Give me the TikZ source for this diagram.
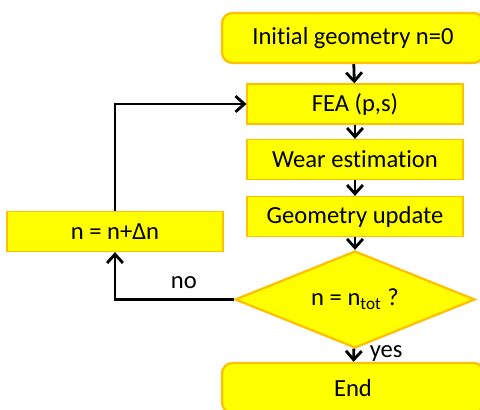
\documentclass[tikz,border=0pt]{standalone}
\usepackage{xcolor}
\usepackage{fontspec}
\setmainfont{Carlito}[Ligatures=NoCommon]
\usepackage{tikz}
\usetikzlibrary{shapes.geometric,arrows.meta}
\definecolor{WFYellow}{HTML}{FFFF00}
\definecolor{WFEdge}{HTML}{FFC000}
\begin{document}
\begin{tikzpicture}[x=1cm,y=1cm,
  every node/.style={font=\fontsize{14}{17}\selectfont},
  wfbox/.style={draw=WFEdge,line width=.7pt,fill=WFYellow,minimum width=4.32cm,minimum height=.8cm,inner sep=0pt},
  wfround/.style={wfbox,rounded corners=6pt,minimum width=5.24cm,minimum height=1cm,line width=1.3pt},
  wfcheck/.style={draw=WFEdge,line width=1.3pt,fill=WFYellow,diamond,aspect=2.5,minimum width=4.8cm,minimum height=1.94cm,inner sep=0pt},
  wfarrow/.style={-{Straight Barb[length=5pt,width=9pt,line width=1.6pt]},line width=1.6pt}]
\path[use as bounding box] (0,0) rectangle (9.60,8.20);
\node[wfround] (init) at (7.06,7.44) {Initial geometry n=0};
\node[wfbox] (fea) at (7.10,6.12) {FEA (p,s)};
\node[wfbox] (wear) at (7.10,5.01) {Wear estimation};
\node[wfbox] (geom) at (7.10,3.87) {Geometry update};
\node[wfcheck] (check) at (7.10,2.21) {n = n\textsubscript{tot} ?};
\node[wfround] (stop) at (7.06,0.44) {End};
\node[wfbox] (incr) at (2.30,3.57) {n = n+Δn};
\draw[wfarrow] (init) -- (fea);
\draw[wfarrow] (fea) -- (wear);
\draw[wfarrow] (wear) -- (geom);
\draw[wfarrow] (geom) -- (check);
\draw[wfarrow] (check) -- node[right,xshift=5pt,yshift=1pt] {yes} (stop);
\draw[wfarrow] (check.west) -- node[above,pos=.42,yshift=2pt] {no} (check.west -| incr.south) -- (incr.south);
\draw[wfarrow] (incr.north) |- (fea.west);
\end{tikzpicture}
\end{document}
